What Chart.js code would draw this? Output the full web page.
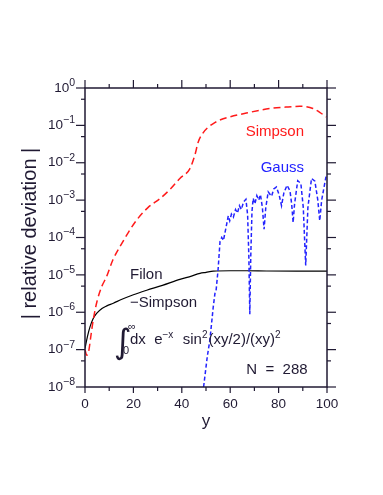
<!DOCTYPE html>
<html>
<head>
<meta charset="utf-8">
<script src="https://cdn.jsdelivr.net/npm/chart.js@4"></script>
<style>
  html, body { margin: 0; padding: 0; background: #fff; }
  #wrap { width: 383px; height: 495px; position: relative; }
</style>
</head>
<body>
<div id="wrap"><canvas id="c"></canvas></div>
<script>
// ─── Data ────────────────────────────────────────────────────────────────

const simpsonX = [0, 0.7, 1.5, 2.5, 3.4, 5, 7, 8.9, 11.5, 14.4, 18, 21.3, 26, 31, 35, 39.2, 43.3, 45.4,
  46.8, 48.8, 50.9, 53, 56, 59.8, 66.7, 76.4, 83, 88.7, 91.5, 94.2, 97, 99.7];
const simpsonY = [1.0e-7, 7.1e-8, 8.9e-8, 2.5e-7, 6.2e-7, 2.0e-6, 5.0e-6, 8.9e-6, 2.5e-5, 5.6e-5, 1.4e-4,
  2.9e-4, 6.3e-4, 1.1e-3, 1.9e-3, 3.8e-3, 6.9e-3, 1.6e-2, 3.6e-2, 6.3e-2, 8.9e-2, 0.112, 0.141, 0.168,
  0.214, 0.282, 0.309, 0.324, 0.316, 0.282, 0.224, 0.168];

const filonX = [0, 1, 2.06, 3.3, 4.8, 7, 9, 11.7, 15, 20, 25.5, 32, 39.2, 44, 47.5, 50, 53, 60, 66.7, 75, 87.4, 100];
const filonY = [1.07e-7, 2.24e-7, 4.07e-7, 6.6e-7, 9.3e-7, 1.26e-6, 1.48e-6, 1.74e-6, 2.19e-6, 2.95e-6,
  3.89e-6, 5.25e-6, 7.6e-6, 9.3e-6, 1.10e-5, 1.17e-5, 1.26e-5, 1.29e-5, 1.29e-5, 1.27e-5, 1.26e-5, 1.26e-5];

const gaussX = [49, 50.5, 51.6, 53, 53.7, 54.2, 55, 55.8, 56.5, 57.2, 58.5, 59.2, 59.8, 60.5, 61.3, 62.2,
  63, 63.8, 64.6, 65.5, 66.5, 67.2, 67.7, 68.1, 68.5, 69, 69.5, 70.2, 71, 71.8, 72.5, 73.3, 74, 74.7,
  75.7, 76.5, 77.1, 78, 79.1, 80.2, 81.2, 82.2, 83.5, 84.7, 85.4, 86, 86.6, 87.9, 89.2, 90.2, 91.2,
  92.1, 93.6, 95, 96.2, 97, 97.8, 99.7, 100];
const gaussY = [1.0e-8, 6.3e-8, 1.8e-7, 1.4e-6, 3.2e-6, 4.0e-6, 1.4e-5, 7.9e-5, 1.0e-4, 8.3e-5, 2.2e-4,
  3.8e-4, 2.8e-4, 4.2e-4, 3.5e-4, 5.6e-4, 4.5e-4, 7.1e-4, 5.6e-4, 8.9e-4, 1.05e-3, 4.0e-4, 3.2e-5,
  8.9e-7, 3.2e-5, 5.0e-4, 1.12e-3, 7.9e-4, 1.32e-3, 1.0e-3, 1.41e-3, 6.3e-4, 1.66e-4, 6.3e-4, 1.66e-3,
  1.41e-3, 1.26e-3, 2.0e-3, 2.24e-3, 1.41e-3, 7.1e-4, 1.58e-3, 2.5e-3, 1.78e-3, 7.9e-4, 2.5e-4, 7.9e-4,
  3.3e-3, 2.8e-3, 6.3e-4, 1.78e-5, 6.3e-4, 3.8e-3, 3.2e-3, 1.0e-3, 2.8e-4, 1.0e-3, 4.7e-3, 4.7e-3];

const xMajor = [0, 20, 40, 60, 80, 100];
const xMinor = [10, 30, 50, 70, 90];
const yExponents = [-8, -7, -6, -5, -4, -3, -2, -1, 0];

const RED = '#ff1a1a';
const BLUE = '#2323ff';
const INK = '#201a33';
const FONT = '"Liberation Sans", Arial, sans-serif';

function pts(xs, ys) {
  return xs.map((x, i) => ({ x, y: ys[i] }));
}

// ─── Frame, ticks and labels ─────────────────────────────────────────────

const framePlugin = {
  id: 'frame',
  afterDraw(chart) {
    const { ctx, chartArea: a, scales: { x, y } } = chart;
    const seg = (x1, y1, x2, y2) => { ctx.beginPath(); ctx.moveTo(x1, y1); ctx.lineTo(x2, y2); ctx.stroke(); };

    ctx.save();
    ctx.strokeStyle = INK;
    ctx.lineWidth = 1.5;
    ctx.strokeRect(a.left, a.top, a.right - a.left, a.bottom - a.top);

    ctx.lineWidth = 1.2;
    for (const v of xMajor) {
      const px = x.getPixelForValue(v);
      seg(px, a.top, px, a.top - 8);
      seg(px, a.bottom, px, a.bottom + 6);
    }
    for (const v of xMinor) {
      const px = x.getPixelForValue(v);
      seg(px, a.top, px, a.top - 4);
      seg(px, a.bottom, px, a.bottom + 4);
    }
    for (const e of yExponents) {
      const py = y.getPixelForValue(Math.pow(10, e));
      seg(a.left, py, a.left - 9, py);
      seg(a.right, py, a.right + 9, py);
      if (e < 0) {
        const pm = y.getPixelForValue(5 * Math.pow(10, e));
        seg(a.left, pm, a.left - 4, pm);
        seg(a.right, pm, a.right + 4, pm);
      }
    }

    // tick labels
    ctx.fillStyle = INK;
    ctx.textBaseline = 'middle';
    ctx.textAlign = 'center';
    ctx.font = '13.5px ' + FONT;
    for (const v of xMajor) ctx.fillText(String(v), x.getPixelForValue(v), a.bottom + 17);

    ctx.textAlign = 'right';
    for (const e of yExponents) {
      const py = y.getPixelForValue(Math.pow(10, e));
      const exp = e === 0 ? '0' : '\u2212' + (-e);
      ctx.font = '10.5px ' + FONT;
      const ew = ctx.measureText(exp).width;
      ctx.fillText(exp, a.left - 10, py - 5);
      ctx.font = '13.5px ' + FONT;
      ctx.fillText('10', a.left - 10 - ew, py);
    }

    // axis titles
    ctx.textAlign = 'center';
    ctx.textBaseline = 'alphabetic';
    ctx.font = '17px ' + FONT;
    ctx.fillText('y', (a.left + a.right) / 2, a.bottom + 39);
    ctx.save();
    ctx.translate(35.5, 233.5);
    ctx.rotate(-Math.PI / 2);
    ctx.font = '20px ' + FONT;
    ctx.fillText('| relative deviation |', 0, 0);
    ctx.restore();

    // curve labels
    ctx.font = '15px ' + FONT;
    ctx.textBaseline = 'middle';
    ctx.textAlign = 'right';
    ctx.fillStyle = RED;
    ctx.fillText('Simpson', x.getPixelForValue(90.5), y.getPixelForValue(6.6e-2));
    ctx.fillStyle = BLUE;
    ctx.fillText('Gauss', x.getPixelForValue(90.5), y.getPixelForValue(7.4e-3));
    ctx.fillStyle = INK;
    ctx.fillText('N  =  288', x.getPixelForValue(92), y.getPixelForValue(2.8e-8));
    ctx.textAlign = 'left';
    ctx.fillText('Filon', x.getPixelForValue(18.6), y.getPixelForValue(1.0e-5));
    ctx.fillText('\u2212Simpson', x.getPixelForValue(18.6), y.getPixelForValue(1.74e-6));

    // integral formula
    let cx = x.getPixelForValue(18.6);
    const by = y.getPixelForValue(1.9e-7) + 5;
    ctx.textBaseline = 'alphabetic';
    ctx.font = '34px "DejaVu Sans", sans-serif';
    ctx.fillText('\u222B', cx - 16, by + 9);
    ctx.font = '11px ' + FONT;
    ctx.fillText('\u221E', cx - 2, by - 14);
    ctx.fillText('0', cx - 7, by + 10);
    const parts = [
      ['dx  e', 15, 0], ['\u2212x', 10, -6], ['  sin', 15, 0], ['2', 10, -6],
      ['(xy/2)/(xy)', 15, 0], ['2', 10, -6]
    ];
    for (const [t, s, dy] of parts) {
      ctx.font = s + 'px ' + FONT;
      ctx.fillText(t, cx, by + dy);
      cx += ctx.measureText(t).width + (s < 15 ? 1 : 0);
    }
    ctx.restore();
  }
};

// ─── Chart ───────────────────────────────────────────────────────────────

new Chart(document.getElementById('c'), {
  type: 'line',
  data: {
    datasets: [
      {
        label: 'Simpson',
        data: pts(simpsonX, simpsonY),
        borderColor: RED,
        borderWidth: 1.5,
        borderDash: [7, 4],
        cubicInterpolationMode: 'monotone',
        pointRadius: 0,
        fill: false,
      },
      {
        label: 'Gauss',
        data: pts(gaussX, gaussY),
        borderColor: BLUE,
        borderWidth: 1.5,
        borderDash: [4, 2.5],
        tension: 0,
        pointRadius: 0,
        fill: false,
      },
      {
        label: 'Filon-Simpson',
        data: pts(filonX, filonY),
        borderColor: '#000',
        borderWidth: 1.2,
        cubicInterpolationMode: 'monotone',
        pointRadius: 0,
        fill: false,
      },
    ],
  },
  options: {
    responsive: true,
    maintainAspectRatio: false,
    animation: false,
    events: [],
    layout: { padding: { left: 85, right: 56, top: 88, bottom: 108 } },
    plugins: { legend: { display: false }, tooltip: { enabled: false } },
    scales: {
      x: { type: 'linear', min: 0, max: 100, display: false },
      y: { type: 'logarithmic', min: 1e-8, max: 1, display: false },
    },
  },
  plugins: [framePlugin],
});
</script>
</body>
</html>
